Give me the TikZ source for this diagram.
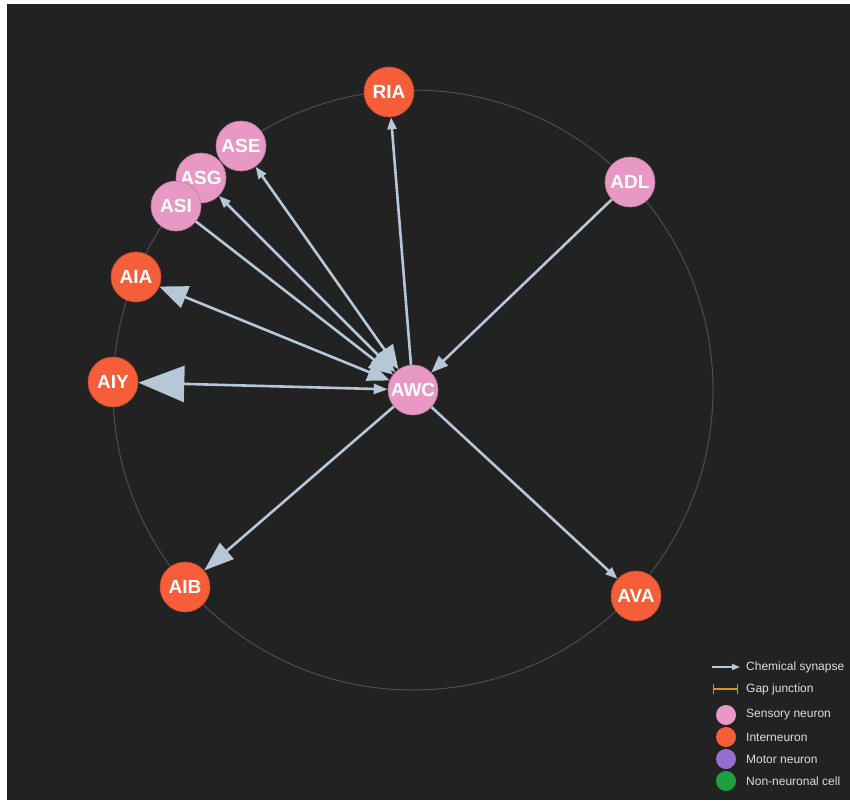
\documentclass[tikz,border=0pt]{standalone}
\usepackage{fontspec}
\setmainfont{Liberation Sans}
\usetikzlibrary{arrows.meta}
\definecolor{bgdark}{RGB}{34,34,34}
\definecolor{edgeblue}{RGB}{182,199,216}
\definecolor{sensory}{RGB}{232,152,196}
\definecolor{inter}{RGB}{245,94,56}
\definecolor{motor}{RGB}{150,110,210}
\definecolor{nonneur}{RGB}{30,160,64}
\definecolor{gapgold}{RGB}{204,152,52}
\definecolor{ringgray}{RGB}{78,78,78}
\definecolor{legtext}{RGB}{222,222,222}
\tikzset{
  neuron/.style={circle,minimum size=50pt,inner sep=0pt,text=white,
    font=\fontsize{19}{19}\selectfont\bfseries},
  sens/.style={neuron,fill=sensory,draw=sensory!80!black,line width=0.6pt},
  intn/.style={neuron,fill=inter,draw=inter!80!black,line width=0.6pt},
  syn/.style={draw=edgeblue,line width=2.6pt},
  legdot/.style={circle,minimum size=20pt,inner sep=0pt},
  legtxt/.style={anchor=west,inner sep=0pt,text=legtext,
    font=\fontsize{12}{12}\selectfont}
}
\begin{document}
\begin{tikzpicture}[x=1pt,y=-1pt]
  \useasboundingbox (0,0) rectangle (850,800);
  \fill[white] (0,0) rectangle (850,800);
  \fill[bgdark] (7,4) rectangle (850,800);
  % layout ring
  \draw[ringgray,line width=1pt] (413,390) circle (300);
  % neurons
  \node[sens] (AWC) at (413,390) {AWC};
  \node[intn] (RIA) at (389,92) {RIA};
  \node[sens] (ADL) at (630,182) {ADL};
  \node[sens] (ASG) at (201,178) {ASG};
  \node[sens] (ASE) at (241,146) {ASE};
  \node[sens] (ASI) at (176,206) {ASI};
  \node[intn] (AIA) at (136,277) {AIA};
  \node[intn] (AIY) at (113,382) {AIY};
  \node[intn] (AIB) at (185,587) {AIB};
  \node[intn] (AVA) at (636,596) {AVA};
  % chemical synapses
  \draw[syn,-{Triangle[length=12pt,width=9pt]}] (AWC) -- (RIA);
  \draw[syn,-{Triangle[length=17pt,width=13pt]}] (ADL) -- (AWC);
  \draw[syn,{Triangle[length=12pt,width=9pt]}-{Triangle[length=24pt,width=20pt]}] (ASE) -- (AWC);
  \draw[syn,{Triangle[length=12pt,width=9pt]}-{Triangle[length=24pt,width=20pt]}] (ASG) -- (AWC);
  \draw[syn,-{Triangle[length=24pt,width=20pt]}] (ASI) -- (AWC);
  \draw[syn,{Triangle[length=28pt,width=23pt]}-{Triangle[length=22pt,width=18pt]}] (AIA) -- (AWC);
  \draw[syn,{Triangle[length=46pt,width=36pt]}-{Triangle[length=14pt,width=10pt]}] (AIY) -- (AWC);
  \draw[syn,-{Triangle[length=30pt,width=21pt]}] (AWC) -- (AIB);
  \draw[syn,-{Triangle[length=12pt,width=9pt]}] (AWC) -- (AVA);
  % legend
  \coordinate (chemA) at (712,667);
  \coordinate (chemB) at (740,667);
  \draw[edgeblue,line width=1.4pt,-{Triangle[length=8pt,width=6pt]}] (chemA) -- (chemB);
  \node[legtxt] (chemL) at (746,667) {Chemical synapse};
  \coordinate (gapA) at (713,689);
  \coordinate (gapB) at (738,689);
  \draw[gapgold,line width=1.4pt,{Bar[width=10pt]}-{Bar[width=10pt]}] (gapA) -- (gapB);
  \node[legtxt] (gapL) at (746,689) {Gap junction};
  \node[legdot,fill=sensory] (legS) at (726,715) {};
  \node[legtxt] (legSL) at (746,715) {Sensory neuron};
  \node[legdot,fill=inter] (legI) at (726,737) {};
  \node[legtxt] (legIL) at (746,737) {Interneuron};
  \node[legdot,fill=motor] (legM) at (726,759) {};
  \node[legtxt] (legML) at (746,759) {Motor neuron};
  \node[legdot,fill=nonneur] (legN) at (726,781) {};
  \node[legtxt] (legNL) at (746,781) {Non-neuronal cell};
\end{tikzpicture}
\end{document}
